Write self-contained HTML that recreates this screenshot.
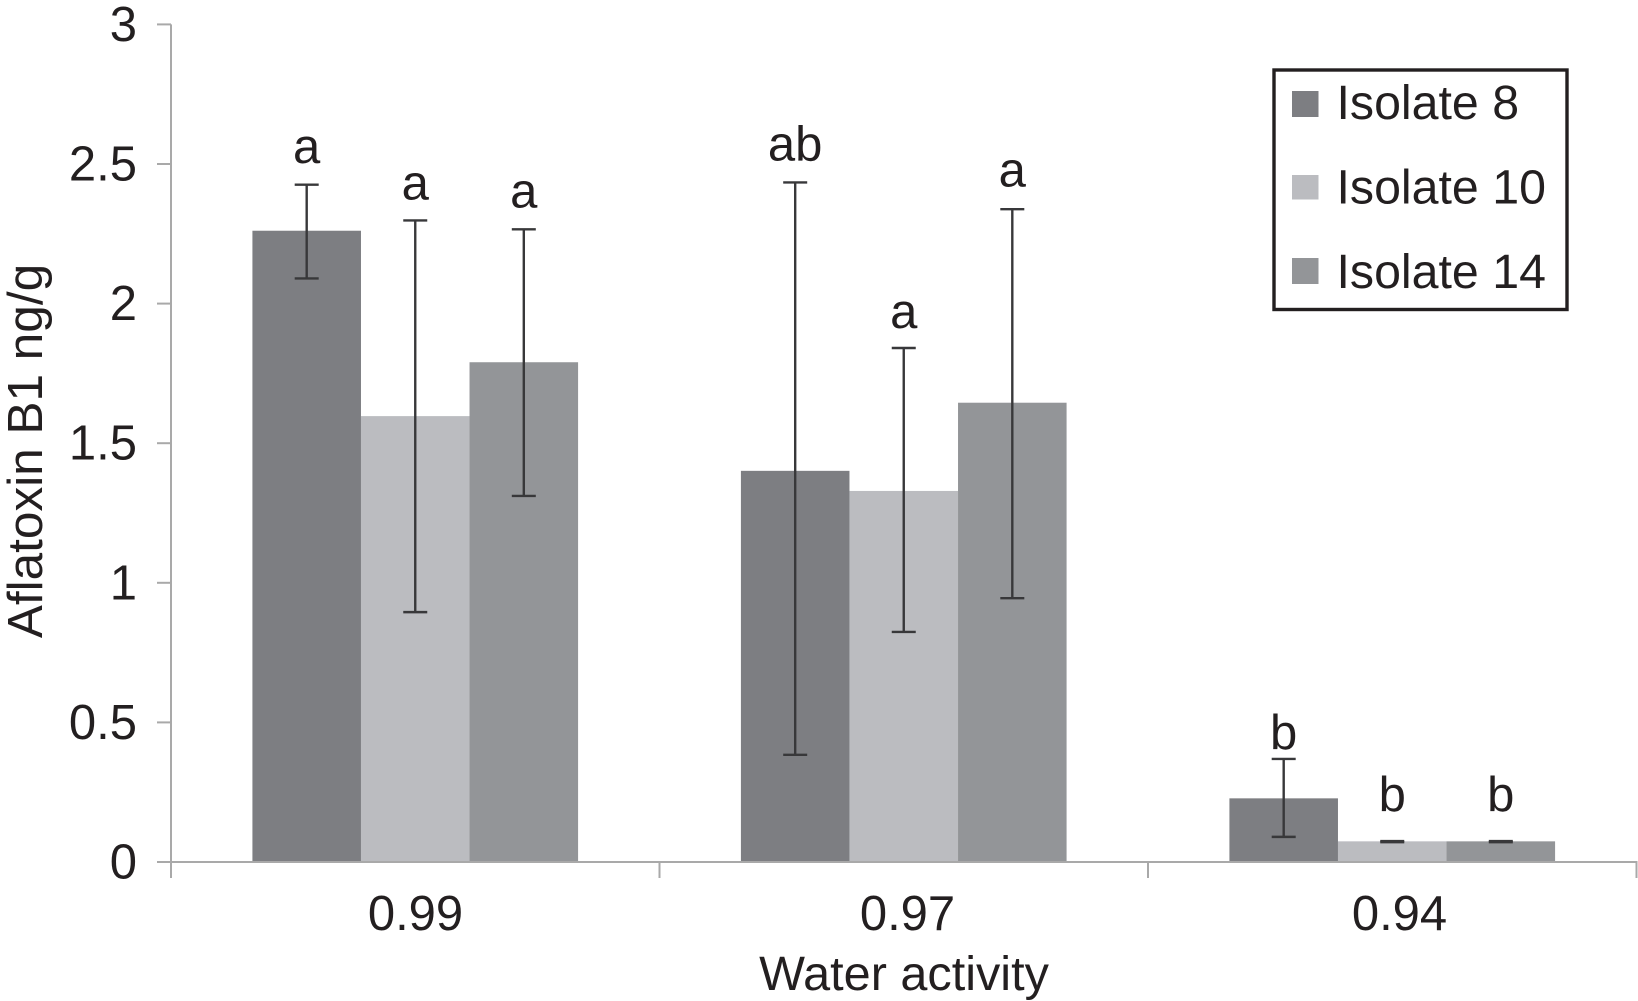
<!DOCTYPE html>
<html lang="en">
<head>
<meta charset="utf-8">
<title>Aflatoxin B1 by water activity</title>
<style>
html,body{margin:0;padding:0;background:#fff;}
svg{display:block;}
text{font-family:"Liberation Sans",Arial,sans-serif;fill:#231f20;font-size:49px;}
</style>
</head>
<body>
<svg id="chart" xmlns="http://www.w3.org/2000/svg" width="1638" height="1001" viewBox="0 0 1638 1001">
  <rect x="0" y="0" width="1638" height="1001" fill="#ffffff"/>
  <g id="bars"></g>
  <g id="errors"></g>
  <g id="axes"></g>
  <g id="letters"></g>
  <text x="904" y="990" text-anchor="middle" style="font-size:48.6px">Water activity</text>
  <text transform="translate(42 451) rotate(-90)" text-anchor="middle" style="font-size:49.5px">Aflatoxin B1 ng/g</text>
  <g style="font-size:48.3px">
    <rect x="1274" y="70" width="293" height="239.5" fill="#ffffff" stroke="#231f20" stroke-width="3.4"/>
    <rect x="1292" y="91" width="26.5" height="26" fill="#7d7e82"/>
    <text x="1336.5" y="119" style="font-size:48.3px">Isolate 8</text>
    <rect x="1292" y="175" width="26.5" height="24.5" fill="#bbbcc0"/>
    <text x="1336.5" y="203.5" style="font-size:48.3px">Isolate 10</text>
    <rect x="1292" y="258" width="26.5" height="26" fill="#939598"/>
    <text x="1336.5" y="288" style="font-size:48.3px">Isolate 14</text>
  </g>
</svg>
<script>
const categories = ['0.99', '0.97', '0.94'];
const seriesNames = ['Isolate 8', 'Isolate 10', 'Isolate 14'];
const yTickValues = [0, 0.5, 1, 1.5, 2, 2.5, 3];
const yTickLabels = ['0', '0.5', '1', '1.5', '2', '2.5', '3'];
const isolate8 = [2.261, 1.401, 0.228];
const isolate10 = [1.597, 1.329, 0.074];
const isolate14 = [1.79, 1.645, 0.074];
const isolate8High = [2.426, 2.434, 0.369];
const isolate10High = [2.298, 1.841, 0.075];
const isolate14High = [2.266, 2.338, 0.075];
const isolate8Low = [2.09, 0.384, 0.09];
const isolate10Low = [0.895, 0.824, 0.071];
const isolate14Low = [1.311, 0.945, 0.071];
const isolate8Letters = ['a', 'ab', 'b'];
const isolate10Letters = ['a', 'a', 'b'];
const isolate14Letters = ['a', 'a', 'b'];
const isolate8LetterGap = [0.078, 0.079, 0.036];
const isolate10LetterGap = [0.075, 0.072, 0.107];
const isolate14LetterGap = [0.079, 0.082, 0.107];

const NS = 'http://www.w3.org/2000/svg';
const X0 = 171;
const CAT_W = 488.5;
const BAR_W = CAT_W / 4.5;
const Y0 = 862;
const Y_UNIT = 279.2;
const AXIS_COLOR = '#a9a9a9';
const ERR_COLOR = '#38383a';
const seriesValues = [isolate8, isolate10, isolate14];
const seriesHigh = [isolate8High, isolate10High, isolate14High];
const seriesLow = [isolate8Low, isolate10Low, isolate14Low];
const seriesLetters = [isolate8Letters, isolate10Letters, isolate14Letters];
const seriesGaps = [isolate8LetterGap, isolate10LetterGap, isolate14LetterGap];
const seriesColors = ['#7d7e82', '#bbbcc0', '#939598'];

function yScale(v) { return Y0 - v * Y_UNIT; }
function xCatEdge(c) { return X0 + c * CAT_W; }
function xBarLeft(c, s) { return xCatEdge(c) + 0.75 * BAR_W + s * BAR_W; }
function xBarCenter(c, s) { return xBarLeft(c, s) + BAR_W / 2; }
function xCatLabel(c) { return 415.5 + c * 492; }

function make(tag, parent, attrs) {
  const el = document.createElementNS(NS, tag);
  Object.keys(attrs).forEach(function (k) { el.setAttribute(k, attrs[k]); });
  parent.appendChild(el);
  return el;
}
function line(parent, x1, y1, x2, y2, color, width) {
  return make('line', parent, { x1: x1, y1: y1, x2: x2, y2: y2, stroke: color, 'stroke-width': width });
}

const barsG = document.getElementById('bars');
const errorsG = document.getElementById('errors');
const axesG = document.getElementById('axes');
const lettersG = document.getElementById('letters');

categories.forEach(function (cat, c) {
  seriesNames.forEach(function (name, s) {
    const key = 'isolate-' + name.split(' ')[1] + '-aw-' + cat;
    const v = seriesValues[s][c];
    const bar = make('rect', barsG, { x: xBarLeft(c, s), y: yScale(v), width: BAR_W, height: Y0 - yScale(v), fill: seriesColors[s] });
    
    

    const cx = xBarCenter(c, s);
    const hi = yScale(seriesHigh[s][c]);
    const lo = yScale(seriesLow[s][c]);
    const stem = line(errorsG, cx, hi, cx, lo, ERR_COLOR, 2.4);
    
    
    const capHigh = line(errorsG, cx - 12, hi, cx + 12, hi, ERR_COLOR, 2.4);
    
    
    const capLow = line(errorsG, cx - 12, lo, cx + 12, lo, ERR_COLOR, 2.4);
    
    

    const letter = make('text', lettersG, { x: cx, y: yScale(seriesHigh[s][c] + seriesGaps[s][c]), 'text-anchor': 'middle' });
    letter.textContent = seriesLetters[s][c];
    
    
  });
});

const yAxisLine = line(axesG, X0, yScale(3), X0, Y0 + 16, AXIS_COLOR, 2);


const xAxisLine = line(axesG, X0 - 14, Y0, xCatEdge(categories.length) + 1, Y0, AXIS_COLOR, 2);



yTickValues.forEach(function (v, i) {
  const y = yScale(v);
  const tick = line(axesG, X0 - 14, y, X0, y, AXIS_COLOR, 2);
  
  
  const label = make('text', axesG, { x: 137, y: y + 16.5, 'text-anchor': 'end' });
  label.textContent = yTickLabels[i];
  
  
});

for (let c = 1; c <= categories.length; c++) {
  const x = xCatEdge(c);
  const tick = line(axesG, x, Y0, x, Y0 + 16, AXIS_COLOR, 2);
  
  
}

categories.forEach(function (cat, c) {
  const label = make('text', axesG, { x: xCatLabel(c), y: 930, 'text-anchor': 'middle' });
  label.textContent = cat;
  
  
});
</script>
</body>
</html>
